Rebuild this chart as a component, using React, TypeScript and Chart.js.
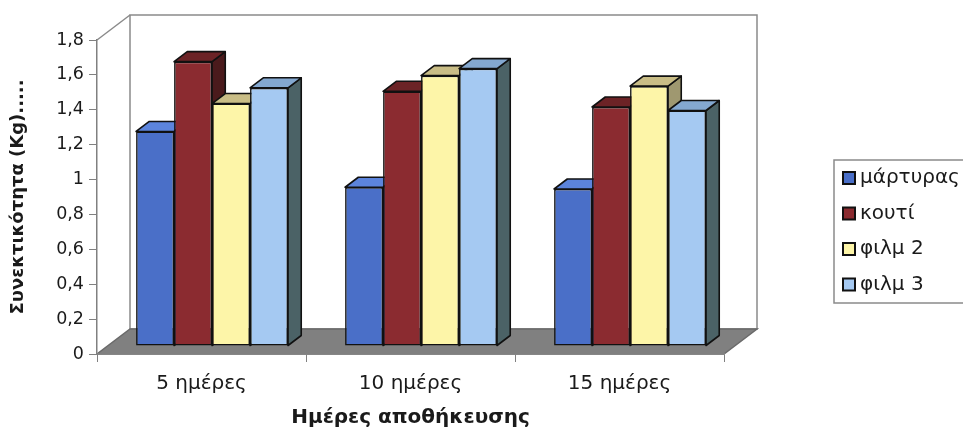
import React, { useEffect, useRef } from 'react';
import { Chart, registerables } from 'chart.js';

Chart.register(...registerables);

const categories = ['5 ημέρες', '10 ημέρες', '15 ημέρες'];
const seriesNames = ['μάρτυρας', 'κουτί', 'φιλμ 2', 'φιλμ 3'];
const martyras = [1.23, 0.91, 0.9];
const kouti = [1.63, 1.46, 1.37];
const film2 = [1.39, 1.55, 1.49];
const film3 = [1.48, 1.59, 1.35];
const yTickLabels = ['0', '0,2', '0,4', '0,6', '0,8', '1', '1,2', '1,4', '1,6', '1,8'];
const yAxisTitle = 'Συνεκτικότητα (Kg).....';
const xAxisTitle = 'Ημέρες αποθήκευσης';

const frontColors = ['#4a6fc8', '#8b2b30', '#fdf5a8', '#a5c9f2'];
const topColors = ['#5c84dc', '#6c2326', '#c9bd86', '#84a8d0'];
const sideColors = ['#2f4a8a', '#4a1a1c', '#9f9870', '#4b6266'];

const DX = 33;
const DY = -25;
const BAR_OFF = 0.32;
const BAR_DEPTH = 0.4;
const FONT = "'DejaVu Sans', sans-serif";
const EDGE = 1.6;

function poly(ctx: CanvasRenderingContext2D, pts: number[][], fill: string) {
  ctx.beginPath();
  ctx.moveTo(pts[0][0], pts[0][1]);
  for (let i = 1; i < pts.length; i++) ctx.lineTo(pts[i][0], pts[i][1]);
  ctx.closePath();
  ctx.fillStyle = fill;
  ctx.fill();
  ctx.stroke();
}

const threeD = {
  id: 'threeD',
  beforeDraw(chart: any) {
    const { ctx, chartArea: a } = chart;
    ctx.save();
    ctx.lineWidth = 1.5;
    ctx.strokeStyle = '#8a8a8a';
    ctx.fillStyle = '#ffffff';
    ctx.beginPath();
    ctx.rect(a.left + DX, a.top + DY, a.right - a.left, a.bottom - a.top);
    ctx.fill();
    ctx.stroke();
    ctx.beginPath();
    ctx.moveTo(a.left, a.top);
    ctx.lineTo(a.left + DX, a.top + DY);
    ctx.stroke();
    ctx.fillStyle = '#808080';
    ctx.strokeStyle = '#6a6a6a';
    ctx.beginPath();
    ctx.moveTo(a.left, a.bottom);
    ctx.lineTo(a.right, a.bottom);
    ctx.lineTo(a.right + DX, a.bottom + DY);
    ctx.lineTo(a.left + DX, a.bottom + DY);
    ctx.closePath();
    ctx.fill();
    ctx.stroke();
    ctx.restore();
  },
  beforeDatasetsDraw(chart: any) {
    const ctx = chart.ctx;
    ctx.save();
    ctx.translate(DX * BAR_OFF, DY * BAR_OFF);
    const ddx = DX * BAR_DEPTH;
    const ddy = DY * BAR_DEPTH;
    ctx.lineWidth = EDGE;
    ctx.strokeStyle = '#111111';
    ctx.lineJoin = 'round';
    const n = chart.data.labels.length;
    for (let c = 0; c < n; c++) {
      for (let d = 0; d < chart.data.datasets.length; d++) {
        const el = chart.getDatasetMeta(d).data[c];
        if (!el) continue;
        const { x, y, base, width } = el.getProps(['x', 'y', 'base', 'width'], true);
        const x1 = x - width / 2;
        const x2 = x + width / 2;
        poly(ctx, [[x2, y], [x2 + ddx, y + ddy], [x2 + ddx, base + ddy], [x2, base]], sideColors[d]);
        poly(ctx, [[x1, y], [x2, y], [x2 + ddx, y + ddy], [x1 + ddx, y + ddy]], topColors[d]);
      }
    }
  },
  afterDatasetsDraw(chart: any) {
    chart.ctx.restore();
  },
  afterDraw(chart: any) {
    const ctx = chart.ctx;
    ctx.save();
    ctx.strokeStyle = '#8a8a8a';
    ctx.lineWidth = 1.5;
    ctx.strokeRect(834, 160, 150, 143);
    chart.data.datasets.forEach((ds: any, i: number) => {
      const cy = 178 + i * 35.5;
      ctx.fillStyle = frontColors[i];
      ctx.fillRect(843, cy - 6, 12, 12);
      ctx.strokeStyle = '#111111';
      ctx.lineWidth = 2;
      ctx.strokeRect(843, cy - 6, 12, 12);
      ctx.fillStyle = '#1a1a1a';
      ctx.font = `20px ${FONT}`;
      ctx.textBaseline = 'middle';
      ctx.textAlign = 'left';
      ctx.fillText(ds.label, 860, cy);
    });
    ctx.restore();
  },
};

export default function App() {
  const ref = useRef<HTMLCanvasElement | null>(null);
  useEffect(() => {
    if (!ref.current) return;
    const seriesValues = [martyras, kouti, film2, film3];
    const chart = new Chart(ref.current, {
      type: 'bar',
      data: {
        labels: categories,
        datasets: seriesValues.map((vals, i) => ({
          label: seriesNames[i],
          data: vals,
          backgroundColor: frontColors[i],
          borderColor: '#111111',
          borderWidth: EDGE,
          borderSkipped: false,
          categoryPercentage: 0.727,
          barPercentage: 1.0,
        })),
      },
      options: {
        responsive: false,
        animation: false,
        layout: { padding: { top: 40, right: 239, left: 0, bottom: 0 } },
        plugins: { legend: { display: false }, tooltip: { enabled: false } },
        scales: {
          x: {
            afterFit: (s: any) => { s.height = 80; },
            grid: { display: true, drawOnChartArea: false, drawTicks: true, tickLength: 8, color: '#808080', offset: true },
            border: { display: true, color: '#808080', width: 1.5 },
            ticks: { color: '#1a1a1a', font: { family: FONT, size: 20 }, padding: 10 },
            title: { display: true, text: xAxisTitle, color: '#1a1a1a', font: { family: FONT, size: 20, weight: 'bold' }, padding: { top: 0, bottom: 4 } },
          },
          y: {
            min: 0,
            max: 1.8,
            afterFit: (s: any) => { s.width = 97; },
            grid: { display: true, drawOnChartArea: false, drawTicks: true, tickLength: 8, color: '#808080' },
            border: { display: true, color: '#808080', width: 1.5 },
            ticks: {
              stepSize: 0.2,
              color: '#1a1a1a',
              font: { family: FONT, size: 17.5 },
              padding: 5,
              callback: (_v: any, i: number) => yTickLabels[i],
            },
            title: { display: true, text: yAxisTitle, color: '#1a1a1a', font: { family: FONT, size: 18, weight: 'bold' }, padding: { top: 8, bottom: 0 } },
          },
        },
      },
      plugins: [threeD],
    } as any);
    return () => chart.destroy();
  }, []);
  return (
    <div style={{ position: 'fixed', left: 0, top: 0, width: 963, height: 434, background: '#fff' }}>
      <canvas ref={ref} width={963} height={434} style={{ display: 'block' }} />
    </div>
  );
}
